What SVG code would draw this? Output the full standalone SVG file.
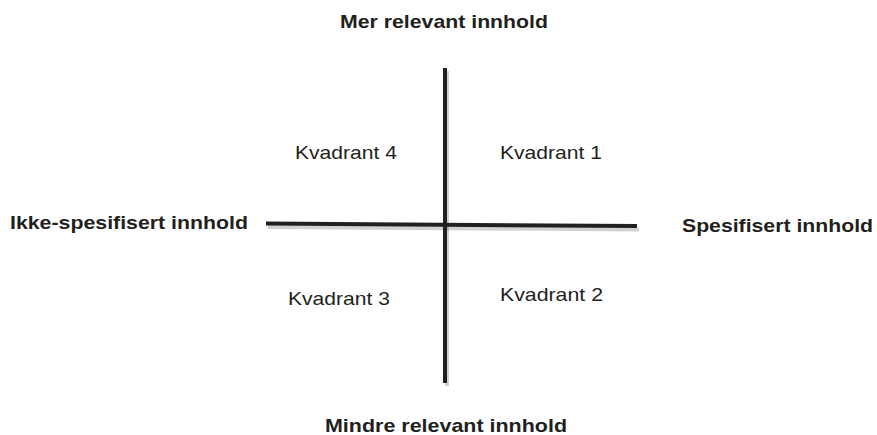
<svg xmlns="http://www.w3.org/2000/svg" width="877" height="435" viewBox="0 0 877 435">
<style>
.t{font-family:"Liberation Sans",Arial,sans-serif;fill:#231f20;font-size:19px}
.b{font-weight:bold}
.ax{stroke:#231f20;stroke-width:4;fill:none}
.sh{stroke:#000;stroke-opacity:0.18;stroke-width:4;fill:none}
</style>
<rect width="877" height="435" fill="#fff"/>
<g id="connectors">
<line class="sh" x1="268" y1="227" x2="639" y2="229.5"/>
<line class="sh" x1="447" y1="71" x2="447" y2="386"/>
<line class="ax" x1="266" y1="223.5" x2="637" y2="226"/>
<line class="ax" x1="445" y1="68" x2="445" y2="383"/>
</g>
<g id="top"><text class="t b" x="340" y="28" textLength="208" lengthAdjust="spacingAndGlyphs">Mer relevant innhold</text></g>
<g id="left"><text class="t b" x="10" y="229" textLength="238" lengthAdjust="spacingAndGlyphs">Ikke-spesifisert innhold</text></g>
<g id="right"><text class="t b" x="682" y="232" textLength="191" lengthAdjust="spacingAndGlyphs">Spesifisert innhold</text></g>
<g id="bottom"><text class="t b" x="325" y="432" textLength="242" lengthAdjust="spacingAndGlyphs">Mindre relevant innhold</text></g>
<g id="q4"><text class="t" x="295" y="159" textLength="102" lengthAdjust="spacingAndGlyphs">Kvadrant 4</text></g>
<g id="q1"><text class="t" x="500" y="159" textLength="102" lengthAdjust="spacingAndGlyphs">Kvadrant 1</text></g>
<g id="q3"><text class="t" x="288" y="305" textLength="102" lengthAdjust="spacingAndGlyphs">Kvadrant 3</text></g>
<g id="q2"><text class="t" x="500" y="301" textLength="103" lengthAdjust="spacingAndGlyphs">Kvadrant 2</text></g>
</svg>
